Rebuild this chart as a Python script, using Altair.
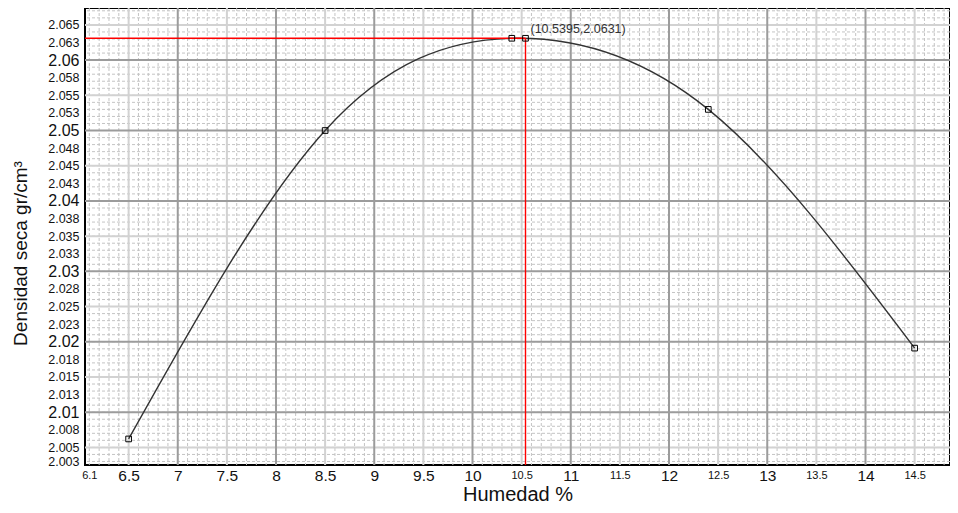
import altair as alt
import numpy as np
import pandas as pd

# ---- data ----
# measured points (the curve is a smooth spline through them)
meas_x = [6.5, 8.5, 10.4, 12.4, 14.5]
meas_y = [2.0062, 2.0500, 2.0631, 2.0530, 2.0191]

peak_x = [10.5395]
peak_y = [2.0631]
peak_label = ["(10.5395,2.0631)"]

x_tick_values = [6.1, 6.5, 7, 7.5, 8, 8.5, 9, 9.5, 10, 10.5, 11, 11.5, 12, 12.5, 13, 13.5, 14, 14.5]
y_tick_values = [2.0025, 2.005, 2.0075, 2.01, 2.0125, 2.015, 2.0175, 2.02, 2.0225, 2.025, 2.0275,
                 2.03, 2.0325, 2.035, 2.0375, 2.04, 2.0425, 2.045, 2.0475, 2.05, 2.0525, 2.055,
                 2.0575, 2.06, 2.0625, 2.065]

x_domain = [6.056, 14.86]
y_domain = [2.0025, 2.0674]

X_TITLE = "Humedad %"
Y_TITLE = "Densidad seca gr/cm³"
FONT = "Liberation Sans"

# grid positions
x_minor = [round(v, 2) for v in np.arange(6.1, 14.9, 0.1)]
x_mid = [6.5, 7.5, 8.5, 9.5, 10.5, 11.5, 12.5, 13.5, 14.5]
x_major = [7, 8, 9, 10, 11, 12, 13, 14]
y_minor = [round(v, 4) for v in np.arange(2.003, 2.0674, 0.001)]
y_mid = [2.005, 2.015, 2.025, 2.035, 2.045, 2.055, 2.065]
y_major = [2.01, 2.02, 2.03, 2.04, 2.05, 2.06]

xs = alt.Scale(domain=x_domain, nice=False, zero=False)
ys = alt.Scale(domain=y_domain, nice=False, zero=False)

x_axis = alt.Axis(values=x_tick_values, grid=False, ticks=False, tickSize=0, domain=False,
                  labelFont=FONT, labelColor="#111111", labelPadding=10,
                  labelBaseline="middle", labelFlush=False, labelOverlap=False,
                  labelExpr="format(datum.value, '~g')",
                  labelFontSize=alt.ExprRef("(datum.value % 1 == 0 || (datum.value > 6.2 && datum.value < 10)) ? 15.5 : 11"),
                  titleFont=FONT, titleFontSize=20, titleFontWeight="normal",
                  titleColor="#111111", titleY=35.5, titleBaseline="alphabetic")
y_axis = alt.Axis(values=y_tick_values, grid=False, ticks=False, tickSize=0, domain=False,
                  labelFont=FONT, labelColor="#111111", labelPadding=6,
                  labelFlush=False, labelOverlap=False,
                  labelBaseline=alt.ExprRef("datum.value < 2.003 ? 'alphabetic' : 'middle'"),
                  labelExpr="format(round(datum.value*1000 + 0.01)/1000, '.3~f')",
                  labelFontSize=alt.ExprRef("abs(datum.value*100 - round(datum.value*100)) < 0.001 ? 16 : 12.5"),
                  titleFont=FONT, titleFontSize=19, titleFontWeight="normal",
                  titleColor="#111111", titleAngle=270, titleAlign="center",
                  titleBaseline="alphabetic", titleX=-59, titleY=245)


def X(f):
    return alt.X(f, type="quantitative", scale=xs, axis=x_axis, title=X_TITLE)


def Y(f):
    return alt.Y(f, type="quantitative", scale=ys, axis=y_axis, title=Y_TITLE)


def vrules(vals, color, width, dash=None):
    m = dict(color=color, strokeWidth=width)
    if dash:
        m["strokeDash"] = dash
    return alt.Chart(pd.DataFrame({"v": vals})).mark_rule(**m).encode(x=X("v"))


def hrules(vals, color, width, dash=None):
    m = dict(color=color, strokeWidth=width)
    if dash:
        m["strokeDash"] = dash
    return alt.Chart(pd.DataFrame({"v": vals})).mark_rule(**m).encode(y=Y("v"))


grid = [
    vrules(x_minor, "#c4c4c4", 1, [3, 2]),
    hrules(y_minor, "#c4c4c4", 1, [3, 2]),
    vrules(x_mid, "#d2d2d2", 2),
    hrules(y_mid, "#d2d2d2", 2),
    vrules(x_major, "#9c9c9c", 2),
    hrules(y_major, "#9c9c9c", 2),
]

peak_df = pd.DataFrame({"px": peak_x, "py": peak_y, "lab": peak_label,
                        "x0": [x_domain[0]], "y0": [y_domain[0]]})

curve_df = pd.DataFrame({"x": meas_x, "y": meas_y})
curve = alt.Chart(curve_df).mark_line(color="#333333", strokeWidth=1.4, interpolate="natural").encode(
    x=X("x"), y=Y("y"))

red_h = alt.Chart(peak_df).mark_rule(stroke="#ff0000", color="#ff0000", strokeWidth=1.4).encode(
    x=X("x0"), x2="px:Q", y=Y("py"))
red_v = alt.Chart(peak_df).mark_rule(stroke="#ff0000", color="#ff0000", strokeWidth=1.4).encode(
    x=X("px"), y=Y("py"), y2="y0:Q")

pts_df = pd.DataFrame({"x": meas_x + peak_x, "y": meas_y + peak_y})
points = alt.Chart(pts_df).mark_point(shape="square", size=32, filled=False, color="#000000",
                                      strokeWidth=1, opacity=1).encode(x=X("x"), y=Y("y"))

label = alt.Chart(peak_df).mark_text(align="left", baseline="bottom", dx=5, dy=-2, font=FONT,
                                     fontSize=12.5, color="#333333").encode(
    x=X("px"), y=Y("py"), text="lab:N")

chart = alt.layer(*grid, curve, red_h, red_v, points, label).properties(
    width=865, height=457,
    autosize=alt.AutoSizeParams(type="none"),
    padding={"left": 77, "top": 0, "right": 0, "bottom": 40},
    background="white",
).configure_view(stroke="#000000", strokeWidth=2)

chart.save("out.html", embed_options={"renderer": "svg", "actions": False})
